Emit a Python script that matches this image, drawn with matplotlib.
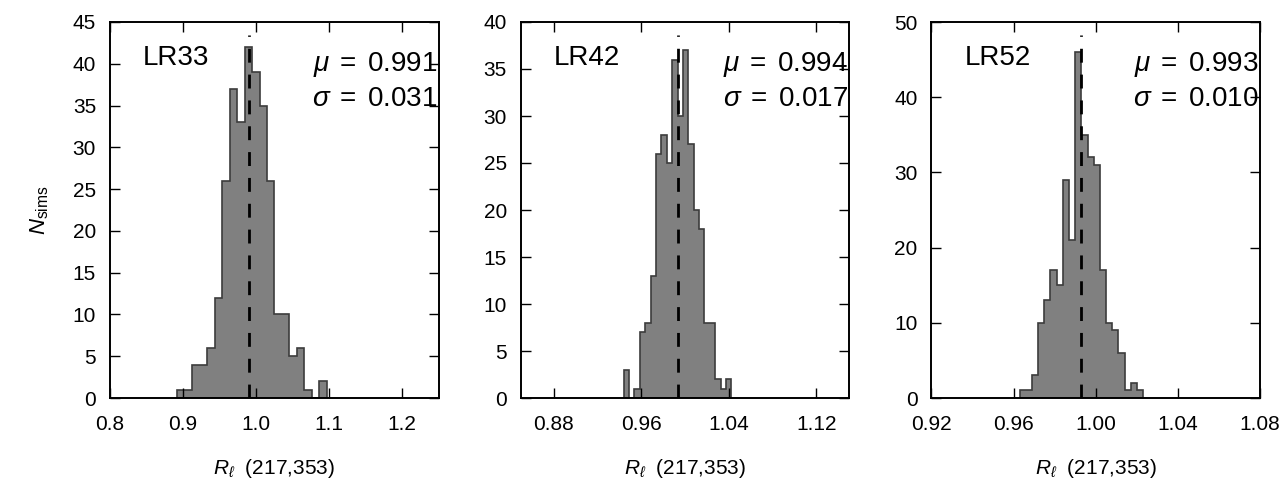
import numpy as np
import matplotlib
matplotlib.use("Agg")
import matplotlib.pyplot as plt

plt.rcParams['font.family'] = ['Liberation Sans', 'DejaVu Sans']
plt.rcParams['mathtext.fontset'] = 'custom'
plt.rcParams['mathtext.rm'] = 'Liberation Sans'
plt.rcParams['mathtext.it'] = 'Liberation Sans:italic'
plt.rcParams['mathtext.bf'] = 'Liberation Sans:bold'

# Histogram data for the three likelihood runs (300 simulations each)
names = ["LR33", "LR42", "LR52"]
mu_vals = [0.991, 0.994, 0.993]
sigma_vals = [0.031, 0.017, 0.010]

counts_lr33 = [1, 1, 4, 4, 6, 12, 26, 37, 33, 42, 39, 35, 26, 10, 10, 5, 6, 1, 0, 2]
counts_lr42 = [3, 0, 1, 7, 8, 13, 26, 28, 25, 36, 30, 37, 27, 20, 18, 8, 8, 2, 1, 2]
counts_lr52 = [1, 1, 3, 10, 13, 17, 15, 29, 21, 46, 35, 32, 31, 17, 10, 9, 6, 1, 2, 1]

bin_lo = [0.892, 0.944, 0.9629]
bin_hi = [1.097, 1.0424, 1.0231]

xlims = [(0.80, 1.25), (0.85, 1.15), (0.92, 1.08)]
ylims = [45, 40, 50]
ystep = [5, 5, 10]
xtick_vals = [[0.8, 0.9, 1.0, 1.1, 1.2],
              [0.88, 0.96, 1.04, 1.12],
              [0.92, 0.96, 1.00, 1.04, 1.08]]
xtick_labels = [["0.8", "0.9", "1.0", "1.1", "1.2"],
                ["0.88", "0.96", "1.04", "1.12"],
                ["0.92", "0.96", "1.00", "1.04", "1.08"]]

all_counts = [counts_lr33, counts_lr42, counts_lr52]

fig, axes = plt.subplots(1, 3, figsize=(12.84, 4.94), dpi=100)
fig.subplots_adjust(left=110/1284, right=1260/1284, bottom=96/494, top=472/494,
                    wspace=82/328)

for i, ax in enumerate(axes):
    counts = np.array(all_counts[i], dtype=float)
    edges = np.linspace(bin_lo[i], bin_hi[i], len(counts) + 1)
    centers = 0.5 * (edges[:-1] + edges[1:])
    ax.hist(centers, bins=edges, weights=counts, histtype='stepfilled',
            facecolor='#808080', edgecolor='#3c3c3c', linewidth=1.2)
    ax.axvline(mu_vals[i], ymin=0, ymax=0.965, color='black', linewidth=2.0,
               dashes=(5, 4.3))

    ax.set_xlim(*xlims[i])
    ax.set_ylim(0, ylims[i])
    ax.set_xticks(xtick_vals[i])
    ax.set_xticklabels(xtick_labels[i])
    ax.set_yticks(np.arange(0, ylims[i] + 1, ystep[i]))

    ax.tick_params(direction='in', top=True, right=True, length=7.5, width=1.0,
                   labelsize=15, colors='black')
    ax.tick_params(axis='x', pad=12)
    ax.tick_params(axis='y', pad=10)
    for sp in ax.spines.values():
        sp.set_linewidth(1.4)

    ax.text(0.10, 0.905, names[i], transform=ax.transAxes, fontsize=20,
            ha='left', va='center')
    ax.text(0.995, 0.888, r"$\mu\;=\;$" + f"{mu_vals[i]:.3f}", transform=ax.transAxes,
            fontsize=20, ha='right', va='center')
    ax.text(0.995, 0.795, r"$\sigma\;=\;$" + f"{sigma_vals[i]:.3f}", transform=ax.transAxes,
            fontsize=20, ha='right', va='center')

    ax.set_xlabel(r"$R_\ell$  (217,353)", fontsize=15, labelpad=17)

axes[0].set_ylabel(r"$N_{\rm sims}$", fontsize=16, labelpad=16)

fig.savefig("out.png", dpi=100)
